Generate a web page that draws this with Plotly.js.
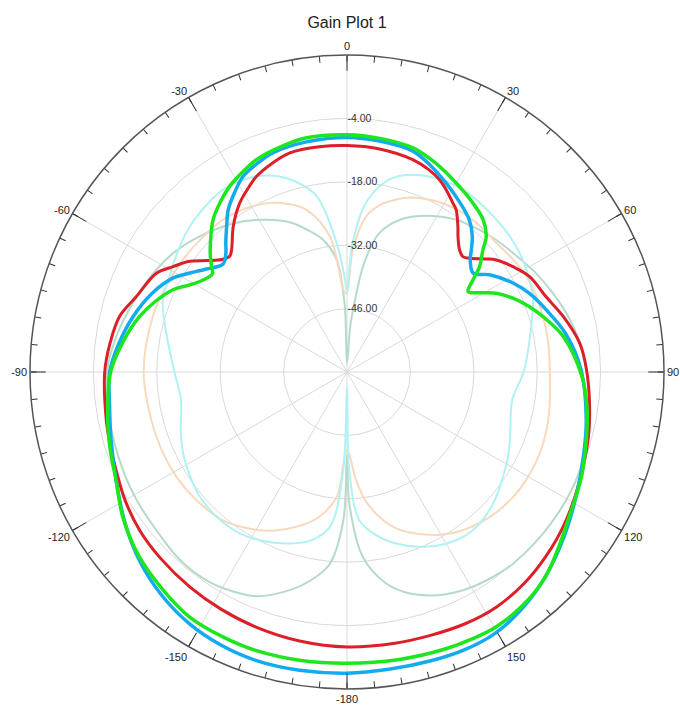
<!DOCTYPE html>
<html><head><meta charset="utf-8">
<script src="https://cdn.plot.ly/plotly-3.0.1.min.js"></script>
<style>html,body{margin:0;padding:0;background:#fff}</style>
</head><body><div id="chart" style="width:680px;height:710px"></div>
<script>
// Axis ticks
const angleTickVals = [0,30,60,90,120,150,180,210,240,270,300,330];
const angleTickText = ["0","30","60","90","120","150","-180","-150","-120","-90","-60","-30"];
const minorTickVals = [];
for (let a = 0; a < 360; a += 5) minorTickVals.push(a);
const radialTickVals = [-46,-32,-18,-4];
const radialTickText = ["-46.00","-32.00","-18.00","-4.00"];

// Series (theta in degrees, gain in dB). Each loop starts at a natural corner/null.
const redTheta = [45.1,47.1,50.9,53.1,57.6,62.4,69.3,75.6,83,89.5,97.4,105,114.9,124.5,132.9,140,147.6,155,162.6,170,180,-170,-160.5,-152,-143.8,-135,-127.4,-120,-113,-107,-101.3,-90,-83,-76.3,-70.3,-62.6,-58.8,-54.9,-51.6,-47.7,-45.4,-43.4,-38,-32.4,-28,-24.8,-20,-14.6,-7,0,8,17.2,22,25.7,29,32.1,33.9,37.3,39.3,42.6,45.1];
const redGain  = [-23.9,-23.1,-20.4,-18.8,-16.6,-14.5,-13.0,-10.7,-8.2,-7.1,-6.0,-4.8,-3.3,-1.5,-0.1,0.9,1.5,1.4,1.0,0.8,0.7,0.3,-0.2,-0.7,-1.2,-1.8,-2.4,-3.4,-4.6,-5.3,-5.8,-6.5,-7.3,-8.3,-10.6,-12.6,-15.1,-17.5,-20.4,-23.0,-23.6,-22.9,-19.2,-15.8,-13.8,-12.4,-11.1,-10.0,-9.9,-10.0,-10.2,-10.9,-11.8,-12.9,-14.4,-16.0,-16.8,-19.6,-21.3,-23.3,-23.9];

const blueTheta = [51.9,55.7,61.8,67,72.7,80,89.5,101.4,110,117.9,127,135.8,143,150.3,157,164,172,180,-171,-162.6,-155,-148,-140,-132.2,-124,-115.1,-106,-97.5,-90,-83,-75.5,-68,-61.7,-57.8,-53.8,-48.9,-45.5,-43.2,-39.6,-36.2,-32,-28,-23,-18.6,-10,0,8,16.6,22,27.7,33,38.8,42.7,45.5,47.7,51.9];
const blueGain  = [-24.6,-21.9,-18.4,-16.0,-13.9,-11.0,-8.3,-6.1,-4.5,-2.6,0.1,2.9,4.9,6.3,6.6,6.4,6.3,6.5,6.7,6.8,6.4,5.6,4.0,1.9,-0.8,-3.7,-5.8,-7.1,-7.6,-9.2,-11.2,-13.6,-16.3,-19.0,-21.5,-23.7,-22.5,-20.9,-18.3,-15.6,-13.2,-11.1,-9.8,-8.9,-8.4,-8.2,-8.5,-9.1,-10.8,-12.9,-14.8,-16.9,-19.2,-21.5,-23.2,-24.6];

const greenTheta = [56.4,59.1,62.2,66,70.3,75,80.7,90.8,98,105.1,114,124,130,136.3,143,149.7,155,160.3,170,180,-171,-162,-155,-147.3,-140,-131.7,-123,-115,-108,-101.4,-90,-82,-75,-70,-64.7,-61,-57.4,-53.9,-52.1,-49.5,-46.6,-41.3,-36.5,-32.3,-28,-23.1,-16,-9.8,0,8,16.4,23,30,36,41.8,45.8,48,51.5,53.8,56.4];
const greenGain  = [-27.9,-25.9,-22.7,-19.9,-17.2,-14.6,-11.6,-8.2,-6.5,-5.2,-3.3,-1.2,0.8,3.1,4.5,5.2,5.1,4.9,4.5,4.3,4.5,4.7,4.6,4.3,3.0,1.4,-1.0,-3.7,-5.0,-6.1,-7.8,-10.2,-12.6,-14.8,-17.5,-20.3,-22.3,-23.2,-22.1,-20.3,-18.5,-15.2,-13.1,-11.5,-10.3,-9.0,-8.1,-7.5,-7.6,-7.9,-8.4,-9.9,-11.8,-13.3,-14.9,-17.1,-19.6,-22.6,-25.5,-27.9];

const cyanTheta = [-180,-177.8,-173.7,-168,-161.6,-154,-146.4,-138,-130.3,-123,-116.4,-109.8,-99.7,-90,-77.9,-68.6,-61.7,-54,-47.2,-40,-34.2,-27,-20.6,-15,-9.8,-4.6,-1.5,0,1,2.5,6.4,11.6,16,21.1,27,32.4,38,44.4,50,55.4,61,67.9,78.1,90,99.6,110.6,117,123.9,131,138.8,144,150,157,164,170,175.2,178.7,180];
const cyanGain  = [-56.5,-38.3,-25.6,-22.0,-20.1,-18.4,-17.2,-17.0,-17.4,-18.5,-19.6,-21.0,-22.8,-21.9,-19.2,-16.3,-15.5,-14.0,-12.7,-11.8,-11.3,-12.0,-13.7,-16.5,-20.6,-31.4,-39,-42.3,-39,-31.5,-22.4,-17.0,-14.8,-13.5,-12.6,-12.3,-12.5,-12.9,-13.2,-13.7,-14.5,-15.7,-18.6,-21.0,-23.0,-21.5,-20.0,-18.5,-16.8,-15.5,-15.4,-16.2,-18.0,-20.6,-23.5,-27.1,-38.3,-56.5];

const orangeTheta = [-180,-175.3,-170,-165.1,-158,-152.1,-146,-140.1,-131,-121.6,-112,-103.8,-90,-74,-65,-55.6,-47,-39.1,-32,-25.5,-19,-14,-7.2,-2.6,-1,0.5,2.7,7,11,15.9,20,25.6,30,36.1,42,49.2,55,62,68,74.2,82,90.6,98.8,105,112.9,120,127,135,143.8,150,155.9,162,167.4,172,175.2,180];
const orangeGain  = [-42.7,-32.3,-28.0,-25.4,-22.5,-20.4,-18.7,-17.3,-16.4,-15.8,-15.6,-15.5,-15.1,-15.4,-15.8,-16.1,-16.4,-16.6,-17.5,-18.7,-20.8,-23.1,-29.8,-41.8,-42.6,-41.9,-33,-25.4,-22.5,-20.4,-19.0,-17.8,-17.1,-16.5,-16.4,-16.4,-15.8,-15.1,-15.0,-15.0,-15.1,-15.2,-14.7,-14.2,-13.8,-13.8,-14.1,-15.0,-16.7,-18.5,-20.8,-23.5,-27.2,-31.5,-36.0,-42.7];

const sageTheta = [-180,-178.6,-174.9,-170,-165.3,-158,-152,-146,-138,-129.7,-122,-113.7,-102,-90,-81,-72.2,-64,-55.7,-48,-40.4,-34,-27.8,-21,-15.8,-10,-5.3,-2,0,4,6,9,13.1,20,27.8,35,43,49,54.4,62,69.1,76,82.9,90,101,112.9,125.7,139.1,146,152,156,159.7,165,169.5,175.1,179,180];
const sageGain  = [-41.6,-27.3,-17.5,-13.2,-10.2,-6.6,-5.3,-4.5,-4.5,-5.3,-5.6,-6.0,-6.5,-7.0,-8.5,-10.3,-11.8,-13.5,-15.6,-17.8,-19.8,-22.0,-24.6,-27.3,-30.5,-35.1,-45,-58,-50,-45,-35.5,-28.5,-24.0,-21.0,-18.8,-17.1,-15.9,-14.9,-13.0,-11.3,-9.6,-8.2,-7.0,-5.5,-4.2,-3.9,-4.0,-4.6,-5.4,-6.3,-7.4,-9.6,-12.5,-19.0,-31,-41.6];

function tr(theta, r, color, width) {
  return {type:'scatterpolar', mode:'lines', theta: theta, r: r, subplot:'polar',
          line:{color: color, width: width, shape:'spline', smoothing:1},
          hoverinfo:'skip', showlegend:false};
}

const data = [
  tr(sageTheta, sageGain, '#b6dac8', 2),
  tr(orangeTheta, orangeGain, '#f9d9bd', 2),
  tr(cyanTheta, cyanGain, '#b0f2f2', 2),
  tr(redTheta, redGain, '#dc1f29', 3),
  tr(blueTheta, blueGain, '#13abef', 3.5),
  tr(greenTheta, greenGain, '#1ee61e', 3.5),
  {type:'scatterpolar', mode:'lines', r:[], theta:[], subplot:'polar2', hoverinfo:'skip', showlegend:false}
];

const dom = {x:[30/680, 664/680], y:[1-689/710, 1-55/710]};
const layout = {
  width:680, height:710,
  margin:{l:0,r:0,t:0,b:0},
  paper_bgcolor:'#ffffff',
  font:{family:'Arial, "Liberation Sans", sans-serif', color:'#222', size:11},
  title:{text:'Gain Plot 1', x:347/680, xref:'paper', xanchor:'center', y:1-22/710, yref:'container', yanchor:'middle',
         font:{size:16, color:'#222', family:'Arial, "Liberation Sans", sans-serif'}},
  showlegend:false,
  dragmode:false,
  polar:{
    domain: dom,
    bgcolor:'rgba(0,0,0,0)',
    radialaxis:{range:[-60,10], tickvals:radialTickVals, ticktext:radialTickText, angle:90, tickangle:90,
                side:'clockwise',
                showline:false, ticks:'', gridcolor:'#d9d9d9', gridwidth:1,
                tickfont:{size:10.5, color:'#333'}},
    angularaxis:{rotation:90, direction:'clockwise', tickvals:angleTickVals, ticktext:angleTickText,
                 ticks:'inside', ticklen:15, tickcolor:'#333', tickwidth:1,
                 showline:true, linecolor:'#555', linewidth:1.5,
                 gridcolor:'#d9d9d9', gridwidth:1, tickfont:{size:11, color:'#222'}}
  },
  polar2:{
    domain: dom,
    bgcolor:'rgba(0,0,0,0)',
    radialaxis:{range:[-60,10], visible:false, showgrid:false},
    angularaxis:{rotation:90, direction:'clockwise', tickvals:minorTickVals, showticklabels:false,
                 ticks:'inside', ticklen:6, tickcolor:'#333', tickwidth:1,
                 showline:false, showgrid:false}
  }
};
Plotly.newPlot('chart', data, layout, {displayModeBar:false, staticPlot:true});
</script></body></html>
